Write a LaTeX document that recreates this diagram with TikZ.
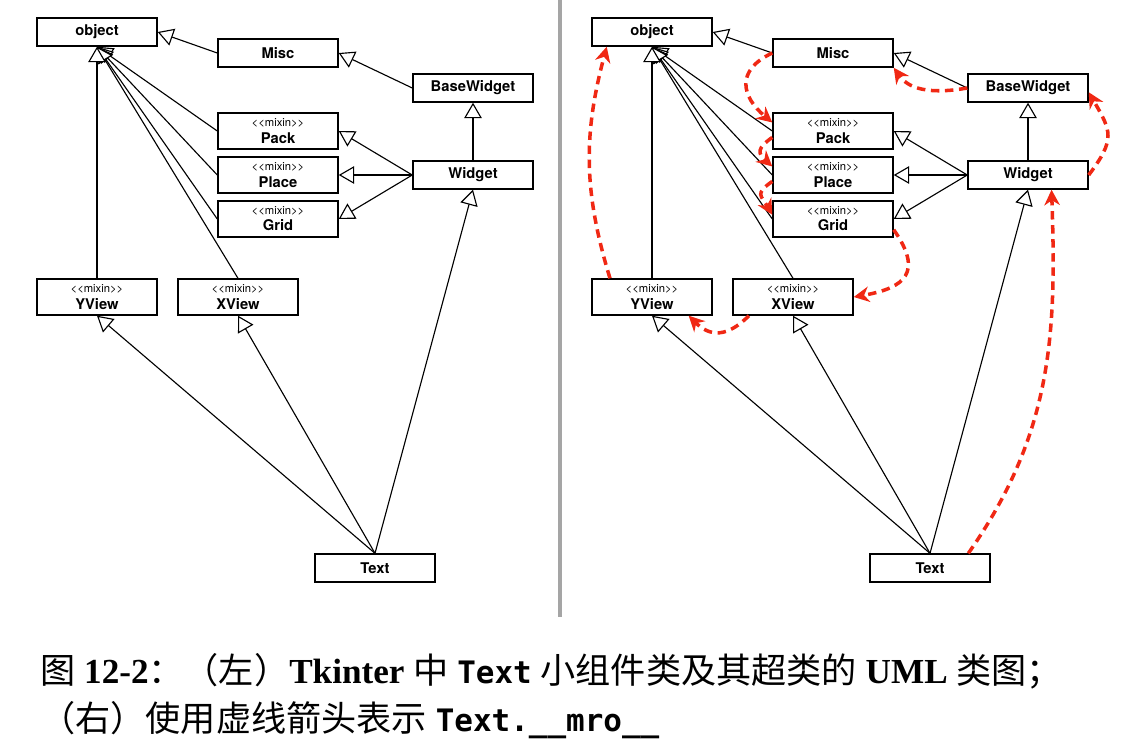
\documentclass[tikz,border=0pt]{standalone}
\usepackage{fontspec}
\setmainfont{Liberation Serif}
\setmonofont{DejaVu Sans Mono}[Scale=0.88]
\newfontfamily\umlfont{TeX Gyre Heros}
\newfontfamily\cjk{Noto Sans CJK SC}
\usetikzlibrary{arrows.meta}
\definecolor{mroRed}{RGB}{240,40,20}
\definecolor{sepGray}{RGB}{165,165,165}

\begin{document}
\begin{tikzpicture}[x=0.025cm, y=0.025cm,
  cls/.style={draw, line width=1pt, minimum width=3cm, minimum height=0.7cm, inner sep=0pt,
    font=\umlfont\bfseries\fontsize{10.5}{11.5}\selectfont},
  mixin/.style={cls, minimum height=0.9cm, align=center},
  isa/.style={line width=0.8pt, -{Triangle[fill=white, length=11pt, width=12.5pt]}},
  mro/.style={mroRed, line width=2.5pt, dash pattern=on 6pt off 4pt,
    -{Stealth[length=11pt, width=11pt, inset=3.5pt]}}]
\useasboundingbox (0,0) rectangle (1128,-746);

% left: the classes
\node[cls] (objL) at (97,-32) {object};
\node[cls] (miscL) at (278,-53) {Misc};
\node[cls] (basewL) at (473,-88) {BaseWidget};
\node[mixin] (packL) at (278,-131) {{\fontsize{8}{9}\selectfont\mdseries <\kern0pt<mixin>\kern0pt>}\\Pack};
\node[mixin] (placeL) at (278,-175) {{\fontsize{8}{9}\selectfont\mdseries <\kern0pt<mixin>\kern0pt>}\\Place};
\node[mixin] (gridL) at (278,-219) {{\fontsize{8}{9}\selectfont\mdseries <\kern0pt<mixin>\kern0pt>}\\Grid};
\node[cls] (widgetL) at (473,-175) {Widget};
\node[mixin] (yviewL) at (97,-297) {{\fontsize{8}{9}\selectfont\mdseries <\kern0pt<mixin>\kern0pt>}\\YView};
\node[mixin] (xviewL) at (238,-297) {{\fontsize{8}{9}\selectfont\mdseries <\kern0pt<mixin>\kern0pt>}\\XView};
\node[cls] (textL) at (375,-568) {Text};

\draw[isa] (miscL.west) -- (objL.east);
\draw[isa] (basewL.west) -- (miscL.east);
\draw[isa] (widgetL.north) -- (basewL.south);
\draw[isa] (widgetL.west) -- (packL.east);
\draw[isa] (widgetL.west) -- (placeL.east);
\draw[isa] (widgetL.west) -- (gridL.east);
\draw[isa] (packL.west) -- (objL.south);
\draw[isa] (placeL.west) -- (objL.south);
\draw[isa] (gridL.west) -- (objL.south);
\draw[isa] (xviewL.north) -- (objL.south);
\draw[isa] (yviewL.north) -- (objL.south);
\draw[isa] (textL.north) -- (yviewL.south);
\draw[isa] (textL.north) -- (xviewL.south);
\draw[isa] (textL.north) -- (widgetL.south);

\draw[sepGray, line width=2.2pt] (560,0) -- (560,-617);

% right: the same classes
\node[cls] (objR) at (652,-32) {object};
\node[cls] (miscR) at (833,-53) {Misc};
\node[cls] (basewR) at (1028,-88) {BaseWidget};
\node[mixin] (packR) at (833,-131) {{\fontsize{8}{9}\selectfont\mdseries <\kern0pt<mixin>\kern0pt>}\\Pack};
\node[mixin] (placeR) at (833,-175) {{\fontsize{8}{9}\selectfont\mdseries <\kern0pt<mixin>\kern0pt>}\\Place};
\node[mixin] (gridR) at (833,-219) {{\fontsize{8}{9}\selectfont\mdseries <\kern0pt<mixin>\kern0pt>}\\Grid};
\node[cls] (widgetR) at (1028,-175) {Widget};
\node[mixin] (yviewR) at (652,-297) {{\fontsize{8}{9}\selectfont\mdseries <\kern0pt<mixin>\kern0pt>}\\YView};
\node[mixin] (xviewR) at (793,-297) {{\fontsize{8}{9}\selectfont\mdseries <\kern0pt<mixin>\kern0pt>}\\XView};
\node[cls] (textR) at (930,-568) {Text};

\draw[isa] (miscR.west) -- (objR.east);
\draw[isa] (basewR.west) -- (miscR.east);
\draw[isa] (widgetR.north) -- (basewR.south);
\draw[isa] (widgetR.west) -- (packR.east);
\draw[isa] (widgetR.west) -- (placeR.east);
\draw[isa] (widgetR.west) -- (gridR.east);
\draw[isa] (packR.west) -- (objR.south);
\draw[isa] (placeR.west) -- (objR.south);
\draw[isa] (gridR.west) -- (objR.south);
\draw[isa] (xviewR.north) -- (objR.south);
\draw[isa] (yviewR.north) -- (objR.south);
\draw[isa] (textR.north) -- (yviewR.south);
\draw[isa] (textR.north) -- (xviewR.south);
\draw[isa] (textR.north) -- (widgetR.south);

% the __mro__ order
\draw[mro] (textR.21) to[out=55, in=-88] (widgetR.-32);
\draw[mro] (widgetR.east) to[out=53, in=-60, looseness=1.4] (basewR.-4);
\draw[mro] (basewR.west) to[out=190, in=-55] (miscR.south east);
\draw[mro] (miscR.west) to[out=205, in=140, looseness=1.5] (packR.172);
\draw[mro] (packR.186) to[out=215, in=138, looseness=1.7] (placeR.172);
\draw[mro] (placeR.186) to[out=215, in=120, looseness=1.7] (gridR.176);
\draw[mro] (gridR.-10) to[out=-55, in=10, looseness=1.7] (xviewR.east);
\draw[mro] (xviewR.203) to[out=225, in=-45, looseness=1.3] (yviewR.-27);
\draw[mro] (yviewR.156) to[out=107, in=-105] (objR.198);

\node[anchor=north west, align=left, inner sep=0pt, font=\fontsize{25}{34}\selectfont] (caption) at (40,-653)
  {{\cjk 图} \textbf{12-2}{\cjk ：（左）}\textbf{Tkinter} {\cjk 中} {\ttfamily\bfseries Text} {\cjk 小组件类及其超类的} \textbf{UML} {\cjk 类图；}\\
   {\cjk （右）使用虚线箭头表示} {\ttfamily\bfseries Text.\_\_mro\_\_}};
\end{tikzpicture}
\end{document}
